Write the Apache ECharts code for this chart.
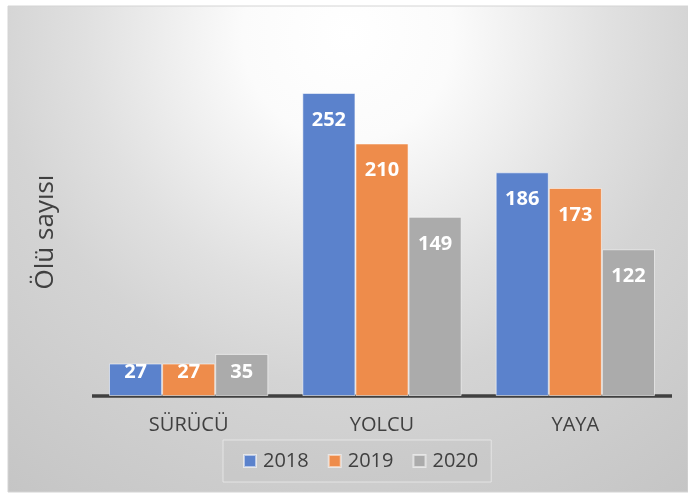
<!DOCTYPE html>
<html>
<head>
<meta charset="utf-8">
<script src="https://cdn.jsdelivr.net/npm/echarts@6/dist/echarts.min.js"></script>
<style>
html,body{margin:0;padding:0;background:#ffffff;}
#chart{width:688px;height:493px;}
</style>
</head>
<body>
<div id="chart"></div>
<script>
var categories = ['SÜRÜCÜ', 'YOLCU', 'YAYA'];
var seriesNames = ['2018', '2019', '2020'];
var values2018 = [27, 252, 186];
var values2019 = [27, 210, 173];
var values2020 = [35, 149, 122];
var yTitle = 'Ölü sayısı';

var colors = ['#5B82CC', '#EE8C4B', '#ABABAB'];
var FONT = '"Open Sans", "Noto Sans", sans-serif';

function makeData(vals) {
  return vals.map(function (v) {
    if (v < 45) {
      return { value: v, label: { position: 'insideBottom', distance: 14 } };
    }
    return { value: v };
  });
}

var allVals = [values2018, values2019, values2020];
var chart = echarts.init(document.getElementById('chart'));
chart.setOption({
  animation: false,
  graphic: [
    {
      type: 'rect', z: -10, silent: true,
      shape: { x: 8, y: 6, width: 680, height: 486 },
      style: {
        fill: new echarts.graphic.RadialGradient(0.5, 0.06, 1.2, [
          { offset: 0, color: '#ffffff' },
          { offset: 0.18, color: '#fbfbfb' },
          { offset: 0.45, color: '#e0e0e0' },
          { offset: 0.6, color: '#d4d4d4' },
          { offset: 1, color: '#c4c4c4' }
        ]),
        stroke: '#d4d4d4', lineWidth: 1
      }
    },
    {
      type: 'text', silent: true, z: 10,
      x: 46, y: 232, rotation: Math.PI / 2,
      style: {
        text: yTitle, fill: '#404040',
        font: '26px ' + FONT,
        textAlign: 'center', textVerticalAlign: 'middle'
      }
    }
  ],
  legend: {
    data: seriesNames,
    left: 223, top: 440,
    padding: [11, 13, 11, 20],
    itemWidth: 12, itemHeight: 12, itemGap: 19,
    icon: 'rect',
    backgroundColor: 'rgba(190,190,190,0.25)',
    borderColor: 'rgba(235,235,235,0.8)', borderWidth: 1,
    textStyle: { fontFamily: FONT, fontSize: 20, color: '#404040', padding: [0, 0, 0, 2] }
  },
  grid: { left: 92, right: 16, top: 35.25, bottom: 97, containLabel: false },
  xAxis: {
    type: 'category',
    data: categories,
    axisLine: { show: true, lineStyle: { color: '#404040', width: 3.5, cap: 'butt' } },
    axisTick: { show: false },
    axisLabel: { fontFamily: FONT, fontSize: 20, color: '#404040', margin: 19 },
    splitLine: { show: false }
  },
  yAxis: {
    type: 'value', min: 0, max: 300, show: false,
    splitLine: { show: false }
  },
  series: seriesNames.map(function (name, i) {
    return {
      name: name,
      type: 'bar',
      data: makeData(allVals[i]),
      barGap: '0%',
      barCategoryGap: '17.6%',
      itemStyle: { color: colors[i], borderColor: 'rgba(255,255,255,0.55)', borderWidth: 1 },
      label: {
        show: true, position: 'insideTop', distance: 17,
        color: '#ffffff', fontFamily: FONT, fontSize: 20, fontWeight: 'bold'
      }
    };
  })
});
</script>
</body>
</html>
